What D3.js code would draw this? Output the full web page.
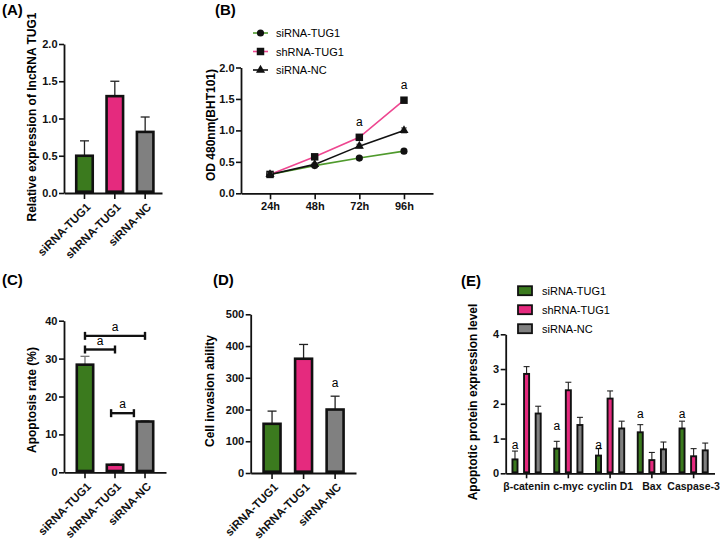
<!DOCTYPE html>
<html>
<head>
<meta charset="utf-8">
<script src="https://cdn.jsdelivr.net/npm/d3@7"></script>
<style>
  body { margin: 0; background: #fff; }
  svg { display: block; font-family: "Liberation Sans", Arial, sans-serif; }
</style>
</head>
<body>
<script>
// ---------------- DATA ----------------
const groups = ["siRNA-TUG1", "shRNA-TUG1", "siRNA-NC"];

// (A) relative expression of lncRNA TUG1
const exprMean = [0.50, 1.30, 0.82];
const exprErr  = [0.20, 0.20, 0.20];
const exprTicks = [0, 0.5, 1.0, 1.5, 2.0];

// (B) OD 480nm growth curve
const timepoints = ["24h", "48h", "72h", "96h"];
const odSiTUG1 = [0.30, 0.44, 0.56, 0.67];
const odShTUG1 = [0.30, 0.58, 0.89, 1.48];
const odSiNC   = [0.30, 0.46, 0.75, 1.00];
const odErrSiTUG1 = [0.02, 0.02, 0.02, 0.03];
const odErrShTUG1 = [0.02, 0.02, 0.03, 0.03];
const odErrSiNC   = [0.02, 0.02, 0.03, 0.04];
const odTicks = [0, 0.5, 1.0, 1.5, 2.0];
const odSigTimes = ["72h", "96h"];

// (C) apoptosis rate
const apoMean = [28.4, 2.0, 13.4];
const apoErr  = [2.2, 0.25, 0.2];
const apoTicks = [0, 10, 20, 30, 40];
// brackets: ends given as category index (fractional), level in %
const apoBrackets = [
  { from: 0, to: 2, level: 36.0 },
  { from: 0, to: 1, level: 32.4 },
  { from: 0.87, to: 1.63, level: 15.6 }
];

// (D) cell invasion
const invMean = [155, 360, 200];
const invErr  = [40, 45, 42];
const invTicks = [0, 100, 200, 300, 400, 500];
const invSig = ["siRNA-NC"];

// (E) apoptotic protein expression
const proteins = ["β-catenin", "c-myc", "cyclin D1", "Bax", "Caspase-3"];
const protSiTUG1 = [0.40, 0.71, 0.51, 1.18, 1.29];
const protShTUG1 = [2.86, 2.39, 2.15, 0.38, 0.49];
const protSiNC   = [1.72, 1.39, 1.29, 0.69, 0.66];
const protErrSiTUG1 = [0.24, 0.21, 0.20, 0.22, 0.21];
const protErrShTUG1 = [0.21, 0.23, 0.22, 0.22, 0.22];
const protErrSiNC   = [0.21, 0.22, 0.21, 0.21, 0.21];
const protSigLevel  = [0.70, 1.25, 0.70, 1.59, 1.59];
const protTicks = [0, 1, 2, 3, 4];

// ---------------- STYLE ----------------
const GREEN = "#3b7a1e", PINK = "#e52a7e", GRAY = "#808080";
const LGREEN = "#4f9a2c", LPINK = "#ee4690";
const colors = [GREEN, PINK, GRAY];
const FONT = "'Liberation Sans', Arial, sans-serif";

const svg = d3.select("body").append("svg").attr("width", 720).attr("height", 542);

function panelLabel(t, x, y) {
  svg.append("text").attr("x", x).attr("y", y).text(t)
    .attr("font-size", 15).attr("font-weight", "bold");
}
function yTitle(t, x, y) {
  svg.append("text").attr("transform", `translate(${x},${y}) rotate(-90)`)
    .attr("text-anchor", "middle").attr("dominant-baseline", "central")
    .attr("font-size", 12).attr("font-weight", "bold").text(t);
}
function styleAxis(g) {
  g.select(".domain").attr("stroke", "#111").attr("stroke-width", 1.8);
  g.selectAll(".tick line").attr("stroke", "#111").attr("stroke-width", 1.6);
  g.selectAll("text").attr("font-family", FONT).attr("font-size", 11)
    .attr("font-weight", "bold").attr("fill", "#111");
}
function drawYAxis(y, x0, ticks, fmt) {
  const g = svg.append("g").attr("transform", `translate(${x0},0)`)
    .call(d3.axisLeft(y).tickValues(ticks).tickFormat(fmt).tickSize(5).tickPadding(1.5).tickSizeOuter(0));
  styleAxis(g);
  return g;
}

function errBar(g, cx, yBase, yTop, half, color, w) {
  g.append("line").attr("x1", cx).attr("x2", cx).attr("y1", yBase).attr("y2", yTop)
    .attr("stroke", color).attr("stroke-width", w);
  g.append("line").attr("x1", cx - half).attr("x2", cx + half).attr("y1", yTop).attr("y2", yTop)
    .attr("stroke", color).attr("stroke-width", w);
}

// generic 3-bar panel
function barPanel(o) {
  const y = d3.scaleLinear().domain([0, o.max]).range([o.yBot, o.yTop]);
  const x = d3.scaleBand().domain(groups).range([o.x0, o.x1])
    .paddingInner(o.pi).paddingOuter(o.po).align(o.align);
  const sw = 2.6;
  const g = svg.append("g");
  groups.forEach((gname, i) => {
    const cx = x(gname) + x.bandwidth() / 2;
    const top = y(o.values[i] + o.errs[i]);
    errBar(g, cx, y(o.values[i]), top, 4.5, o.errColor || "#222", 1.3);
  });
  g.selectAll("rect").data(o.values).join("rect")
    .attr("x", (d, i) => x(groups[i]) + sw / 2)
    .attr("width", x.bandwidth() - sw)
    .attr("y", d => y(d))
    .attr("height", d => y(0) - y(d) - sw / 2)
    .attr("fill", (d, i) => colors[i])
    .attr("stroke", "#111").attr("stroke-width", sw);
  drawYAxis(y, o.x0, o.ticks, o.fmt);
  const gx = svg.append("g").attr("transform", `translate(0,${o.yBot})`)
    .call(d3.axisBottom(x).tickSize(6).tickSizeOuter(0));
  styleAxis(gx);
  gx.selectAll(".tick text")
    .attr("font-size", 11.5)
    .attr("y", 0).attr("dy", 0)
    .attr("transform", "translate(4,12) rotate(-45)")
    .attr("dominant-baseline", "central")
    .style("text-anchor", "end");
  return { x, y, g };
}

// ---------------- (A) ----------------
panelLabel("(A)", 2, 15);
barPanel({ x0: 64, x1: 162, yTop: 44, yBot: 193, max: 2.0, ticks: exprTicks,
  fmt: d3.format(".1f"), values: exprMean, errs: exprErr, pi: 0.37, po: 0.3, align: 0.6 });
yTitle("Relative expression of lncRNA TUG1", 32, 117);

// ---------------- (B) ----------------
panelLabel("(B)", 215, 15);
{
  const x = d3.scalePoint().domain(timepoints).range([241, 433]).padding(0.65);
  const y = d3.scaleLinear().domain([0, 2]).range([193.3, 67.5]);
  const series = [
    { name: "siRNA-TUG1", vals: odSiTUG1, errs: odErrSiTUG1, color: LGREEN, sym: d3.symbolCircle, size: 40 },
    { name: "shRNA-TUG1", vals: odShTUG1, errs: odErrShTUG1, color: LPINK, sym: d3.symbolSquare, size: 56 },
    { name: "siRNA-NC",   vals: odSiNC,   errs: odErrSiNC,   color: "#111", sym: d3.symbolTriangle, size: 36 }
  ];
  const line = d3.line().x((d, i) => x(timepoints[i])).y(d => y(d));
  series.forEach(s => {
    svg.append("path").datum(s.vals).attr("d", line)
      .attr("fill", "none").attr("stroke", s.color).attr("stroke-width", 1.6);
  });
  series.forEach(s => {
    const g = svg.append("g");
    s.vals.forEach((v, i) => {
      const cx = x(timepoints[i]);
      g.append("line").attr("x1", cx).attr("x2", cx).attr("y1", y(v - s.errs[i])).attr("y2", y(v + s.errs[i]))
        .attr("stroke", "#777").attr("stroke-width", 1.2);
      [v - s.errs[i], v + s.errs[i]].forEach(e =>
        g.append("line").attr("x1", cx - 3).attr("x2", cx + 3).attr("y1", y(e)).attr("y2", y(e))
          .attr("stroke", "#777").attr("stroke-width", 1.2));
      g.append("path").attr("d", d3.symbol().type(s.sym).size(s.size)())
        .attr("transform", `translate(${cx},${y(v)})`).attr("fill", "#111");
    });
  });
  // significance
  odSigTimes.forEach(t => {
    const i = timepoints.indexOf(t);
    svg.append("text").attr("x", x(t)).attr("y", y(odShTUG1[i] + odErrShTUG1[i]) - 9)
      .attr("text-anchor", "middle").attr("font-size", 12).text("a");
  });
  drawYAxis(y, 241, odTicks, d3.format(".1f"));
  const gx = svg.append("g").attr("transform", `translate(0,193.3)`)
    .call(d3.axisBottom(x).tickSize(6).tickSizeOuter(0).tickPadding(3));
  styleAxis(gx);
  // legend
  const lg = svg.append("g");
  series.forEach((s, i) => {
    const ly = 33 + i * 18.5;
    lg.append("line").attr("x1", 253).attr("x2", 268).attr("y1", ly).attr("y2", ly)
      .attr("stroke", s.color).attr("stroke-width", 1.6);
    lg.append("path").attr("d", d3.symbol().type(s.sym).size(s.size)())
      .attr("transform", `translate(260.5,${ly})`).attr("fill", "#111");
    lg.append("text").attr("x", 276).attr("y", ly).attr("dominant-baseline", "central")
      .attr("font-size", 11).text(s.name);
  });
  yTitle("OD 480nm(BHT101)", 211, 125);
}

// ---------------- (C) ----------------
panelLabel("(C)", 2, 285);
{
  const p = barPanel({ x0: 64, x1: 166, yTop: 320.7, yBot: 472.3, max: 40, ticks: apoTicks,
    fmt: d3.format("d"), values: apoMean, errs: apoErr, pi: 0.367, po: 0.383, align: 0.5, errColor: "#777" });
  const step = p.x.step();
  const c0 = p.x(groups[0]) + p.x.bandwidth() / 2;
  apoBrackets.forEach(b => {
    const xa = c0 + b.from * step, xb = c0 + b.to * step, yy = p.y(b.level);
    const g = svg.append("g").attr("stroke", "#111").attr("stroke-width", 2.4);
    g.append("line").attr("x1", xa).attr("x2", xb).attr("y1", yy).attr("y2", yy);
    g.append("line").attr("x1", xa).attr("x2", xa).attr("y1", yy - 4).attr("y2", yy + 4);
    g.append("line").attr("x1", xb).attr("x2", xb).attr("y1", yy - 4).attr("y2", yy + 4);
    svg.append("text").attr("x", (xa + xb) / 2).attr("y", yy - 5)
      .attr("text-anchor", "middle").attr("font-size", 12).text("a");
  });
  yTitle("Apoptosis rate (%)", 32, 400);
}

// ---------------- (D) ----------------
panelLabel("(D)", 213, 285);
{
  const p = barPanel({ x0: 250.7, x1: 356, yTop: 314.3, yBot: 473, max: 500, ticks: invTicks,
    fmt: d3.format("d"), values: invMean, errs: invErr, pi: 0.38, po: 0.36, align: 0.51 });
  invSig.forEach(gname => {
    const i = groups.indexOf(gname);
    svg.append("text").attr("x", p.x(gname) + p.x.bandwidth() / 2)
      .attr("y", p.y(invMean[i] + invErr[i]) - 9)
      .attr("text-anchor", "middle").attr("font-size", 12).text("a");
  });
  yTitle("Cell invasion ability", 210, 391);
}

// ---------------- (E) ----------------
panelLabel("(E)", 461, 286);
{
  const y = d3.scaleLinear().domain([0, 4]).range([473.3, 334.3]);
  const x = d3.scaleBand().domain(proteins).range([505.7, 714.5]).padding(0);
  const xs = d3.scaleBand().domain(groups).range([0, x.bandwidth()]).paddingInner(0.4).paddingOuter(0.5);
  const vals = [protSiTUG1, protShTUG1, protSiNC];
  const errs = [protErrSiTUG1, protErrShTUG1, protErrSiNC];
  const sw = 1.9;
  const g = svg.append("g");
  groups.forEach((gn, si) => {
    proteins.forEach((p, pi) => {
      const cx = x(p) + xs(gn) + xs.bandwidth() / 2;
      errBar(g, cx, y(vals[si][pi]), y(vals[si][pi] + errs[si][pi]), 3, "#222", 1.1);
    });
  });
  groups.forEach((gn, si) => {
    g.append("g").selectAll("rect").data(vals[si]).join("rect")
      .attr("x", (d, pi) => x(proteins[pi]) + xs(gn) + sw / 2)
      .attr("width", xs.bandwidth() - sw)
      .attr("y", d => y(d))
      .attr("height", d => y(0) - y(d) - sw / 2)
      .attr("fill", colors[si]).attr("stroke", "#111").attr("stroke-width", sw);
  });
  proteins.forEach((p, pi) => {
    svg.append("text").attr("x", x(p) + xs(groups[0]) + xs.bandwidth() / 2)
      .attr("y", y(protSigLevel[pi])).attr("text-anchor", "middle").attr("font-size", 12).text("a");
  });
  drawYAxis(y, 505.7, protTicks, d3.format("d"));
  const xt = d3.axisBottom(x).tickSize(5).tickSizeOuter(0).tickPadding(4);
  const gx = svg.append("g").attr("transform", `translate(0,473.3)`).call(xt);
  styleAxis(gx);
  gx.selectAll(".tick").attr("transform", d => `translate(${x(d) + xs(groups[1]) + xs.bandwidth() / 2},0)`);
  gx.selectAll(".tick text").attr("font-size", 10.5);
  // legend
  groups.forEach((gn, i) => {
    const ly = 290.7 + i * 19;
    svg.append("rect").attr("x", 518).attr("y", ly - 4.5).attr("width", 14).attr("height", 9)
      .attr("fill", colors[i]).attr("stroke", "#111").attr("stroke-width", 1.8);
    svg.append("text").attr("x", 542).attr("y", ly).attr("dominant-baseline", "central")
      .attr("font-size", 11).text(gn);
  });
  yTitle("Apoptotic protein expression level", 473, 402);
}
</script>
</body>
</html>
